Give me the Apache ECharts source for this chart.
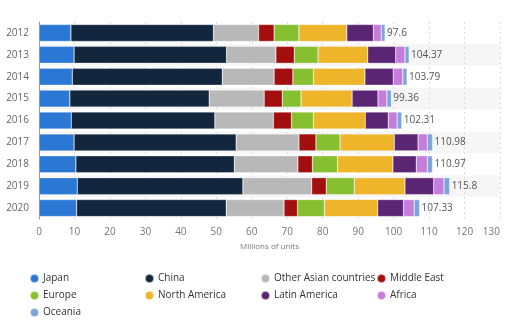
<!DOCTYPE html>
<html><head><meta charset="utf-8">
<script src="https://cdn.jsdelivr.net/npm/echarts@6/dist/echarts.min.js"></script>
<style>html,body{margin:0;padding:0;background:#fff}#c{width:505px;height:325px}</style>
</head><body><div id="c"></div>
<script>
const years = ['2012','2013','2014','2015','2016','2017','2018','2019','2020'];
const japan = [9.0, 9.9, 9.4, 8.7, 9.1, 9.9, 10.4, 10.8, 10.6];
const china = [40.2, 43.0, 42.3, 39.3, 40.5, 45.7, 44.7, 46.7, 42.2];
const otherAsia = [12.7, 13.9, 14.6, 15.5, 16.5, 17.7, 17.9, 19.4, 16.3];
const middleEast = [4.4, 5.2, 5.3, 5.1, 5.1, 4.8, 4.1, 4.1, 3.8];
const europe = [7.0, 6.7, 5.8, 5.3, 6.2, 6.8, 7.1, 7.9, 7.6];
const northAmerica = [13.5, 14.0, 14.5, 14.4, 14.6, 15.3, 15.6, 14.3, 15.0];
const latinAmerica = [7.5, 7.9, 8.0, 7.3, 6.5, 6.7, 6.6, 8.1, 7.3];
const africa = [2.2, 2.6, 2.7, 2.5, 2.5, 2.6, 3.1, 2.9, 3.0];
const oceania = [1.1, 1.17, 1.19, 1.26, 1.31, 1.48, 1.47, 1.6, 1.53];
const totals = ['97.6','104.37','103.79','99.36','102.31','110.98','110.97','115.8','107.33'];
const xTicks = [0,10,20,30,40,50,60,70,80,90,100,110,120,130];

const seriesDefs = [
  ['Japan', japan, '#2b78d4'],
  ['China', china, '#12263d'],
  ['Other Asian countries', otherAsia, '#b8b8b8'],
  ['Middle East', middleEast, '#a30f0f'],
  ['Europe', europe, '#86bf30'],
  ['North America', northAmerica, '#eeb42a'],
  ['Latin America', latinAmerica, '#5a2674'],
  ['Africa', africa, '#c47ddd'],
  ['Oceania', oceania, '#7aa5da']
];
const font = 'Open Sans, DejaVu Sans, sans-serif';
const colX = [29, 144, 260, 376];
const rowY = [273, 290, 307];

const series = seriesDefs.map((d, i) => ({
  name: d[0], type: 'bar', stack: 'total', data: d[1],
  barWidth: 17,
  itemStyle: { color: d[2], borderColor: 'rgba(255,255,255,0.6)', borderWidth: 0.5 },
  label: i === seriesDefs.length - 1 ? {
    show: true, position: 'right', distance: 2,
    formatter: p => totals[p.dataIndex],
    color: '#555', fontSize: 10, fontFamily: font
  } : { show: false },
  emphasis: { disabled: true }
}));

const legends = seriesDefs.map((d, i) => ({
  data: [d[0]], left: colX[i % 4], top: rowY[Math.floor(i / 4)],
  icon: 'circle', itemWidth: 9, itemHeight: 9, itemGap: 5,
  textStyle: { fontSize: 10, color: '#333', fontFamily: font, padding: [0,0,0,-1] },
  padding: 0, selectedMode: false
}));

const chart = echarts.init(document.getElementById('c'), null, { renderer: 'canvas' });
chart.setOption({
  animation: false,
  textStyle: { fontFamily: font },
  grid: { left: 39, right: 5, top: 22, height: 197 },
  xAxis: {
    type: 'value', min: 0, max: 130, interval: 10,
    axisLine: { show: false }, axisTick: { show: false },
    axisLabel: { color: '#777', fontSize: 10, margin: 8, fontFamily: font, alignMaxLabel: 'right',
      formatter: v => xTicks.includes(v) ? String(v) : '' },
    splitLine: { show: true, lineStyle: { color: '#dcdcdc', type: [2, 3], width: 1 } },
    name: 'Millions of units', nameLocation: 'middle', nameGap: 24,
    nameTextStyle: { color: '#777', fontSize: 8, fontFamily: font }
  },
  yAxis: {
    type: 'category', data: years, inverse: true,
    axisLine: { show: true, lineStyle: { color: '#999', width: 1 } },
    axisTick: { show: false },
    axisLabel: { color: '#666', fontSize: 10, margin: 10, fontFamily: font },
    splitArea: { show: true, areaStyle: { color: ['rgba(255,255,255,0)', 'rgba(240,240,240,0.6)'] } }
  },
  legend: legends,
  series: series
});
</script></body></html>
